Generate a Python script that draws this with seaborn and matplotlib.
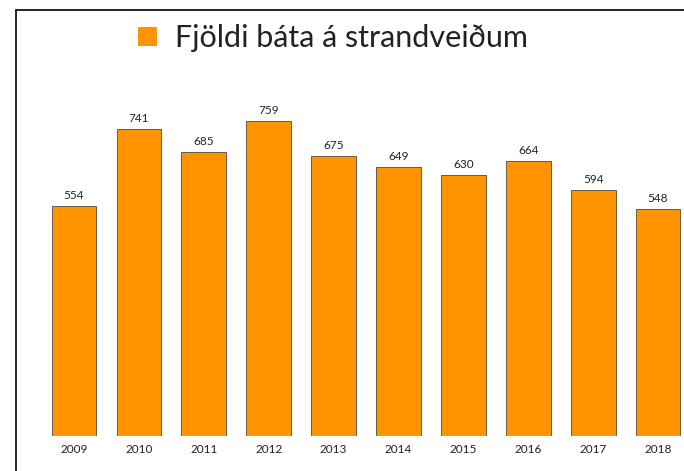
import matplotlib
matplotlib.use('Agg')
import matplotlib.pyplot as plt
import seaborn as sns
import pandas as pd
from matplotlib.lines import Line2D
from matplotlib.patches import Patch

years = ['2009', '2010', '2011', '2012', '2013', '2014', '2015', '2016', '2017', '2018']
boats = [554, 741, 685, 759, 675, 649, 630, 664, 594, 548]
series_name = 'Fjöldi báta á strandveiðum'

df = pd.DataFrame({'ar': years, 'fjoldi': boats})

sns.set_theme(style='white')
plt.rcParams['font.family'] = ['Lato', 'DejaVu Sans']

W, H = 684, 471
fig = plt.figure(figsize=(W / 100, H / 100), dpi=100)
fig.patch.set_facecolor('white')

# axes placed in pixel terms so bars line up with the reference
left_px, bottom_px, top_px = 41.6, 35, 60
ax = fig.add_axes([left_px / W, bottom_px / H, (684 - left_px) / W, (H - top_px - bottom_px) / H])

orange = '#FF9400'
sns.barplot(data=df, x='ar', y='fjoldi', color=orange, width=0.69,
            edgecolor='#6b5a44', linewidth=0.7, saturation=1, ax=ax)

ax.set_xlim(-0.5, 9.4)
ax.set_ylim(0, (H - top_px - bottom_px) / 0.4146)

for i, v in enumerate(boats):
    ax.text(i, v + 12, str(v), ha='center', va='bottom', fontsize=8.5, color='#222222')

ax.set_xlabel('')
ax.set_ylabel('')
ax.set_yticks([])
ax.tick_params(axis='x', length=0, labelsize=8.5, labelcolor='#222222', pad=6)
for s in ax.spines.values():
    s.set_visible(False)
ax.set_facecolor('none')

# frame lines (left and top)
fig.add_artist(Line2D([16 / W, 16 / W], [0, 1 - 10 / H], color='black', lw=1.2))
fig.add_artist(Line2D([16 / W, 1], [1 - 10 / H, 1 - 10 / H], color='black', lw=1.2))

handle = Patch(facecolor=orange, edgecolor='none')
fig.legend([handle], [series_name], loc='center', bbox_to_anchor=(0.487, 1 - 38 / H),
           frameon=False, fontsize=22, handlelength=0.6, handleheight=0.6,
           handletextpad=0.6, labelcolor='#222222')

fig.savefig('out.png', dpi=100)
